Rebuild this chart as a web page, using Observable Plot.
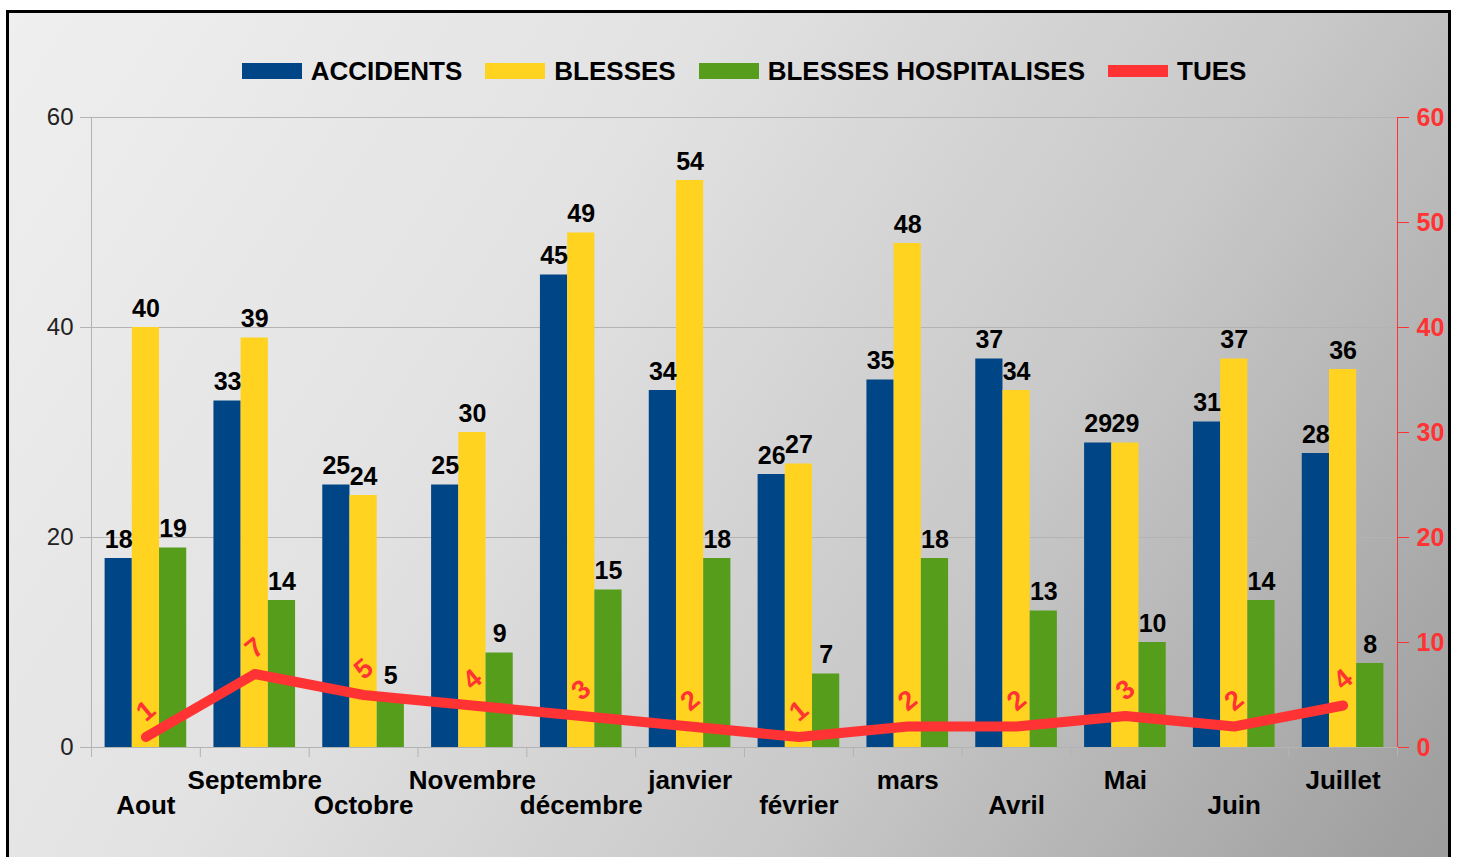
<!DOCTYPE html>
<html>
<head>
<meta charset="utf-8">
<script src="https://cdn.jsdelivr.net/npm/d3@7"></script>
<script src="https://cdn.jsdelivr.net/npm/@observablehq/plot@0.6"></script>
<style>
  html, body { margin: 0; padding: 0; background: #ffffff; overflow: hidden; }
  body { width: 1458px; height: 857px; position: relative; font-family: 'Liberation Sans', Arial, sans-serif; }
  #frame {
    position: absolute; left: 6px; top: 10px; width: 1439px; height: 900px;
    border: 3px solid #000; overflow: hidden;
    background: linear-gradient(123deg, #efefef 0%, #e2e2e2 35%, #c8c8c8 65%, #9a9a9a 100%);
  }
  #legend {
    position: absolute; left: 82px; width: 1306px; top: 44px; height: 28px;
    display: flex; justify-content: center; align-items: center; gap: 23px;
  }
  .item { display: flex; align-items: center; gap: 9px; font-weight: bold; font-size: 26px; color: #000; }
  .sw { width: 60px; height: 16px; }
  #chart { position: absolute; left: 0; top: 87px; }
</style>
</head>
<body>
<div id="frame">
  <div id="legend"></div>
  <div id="chart"></div>
</div>
<script>
const months = ["Aout","Septembre","Octobre","Novembre","décembre","janvier","février","mars","Avril","Mai","Juin","Juillet"];
const accidents = [18,33,25,25,45,34,26,35,37,29,31,28];
const blesses = [40,39,24,30,49,54,27,48,34,29,37,36];
const hospitalises = [19,14,5,9,15,18,7,18,13,10,14,8];
const tues = [1,7,5,4,3,2,1,2,2,3,2,4];
const barSeries = ["ACCIDENTS","BLESSES","BLESSES HOSPITALISES"];
const lineSeries = "TUES";
const barColors = ["#004586","#ffd320","#579d1c"];
const lineColor = "#ff3333";
const leftTicks = [0,20,40,60];
const rightTicks = [0,10,20,30,40,50,60];

// legend
const legend = document.getElementById("legend");
barSeries.concat([lineSeries]).forEach((name, k) => {
  const it = document.createElement("div");
  it.className = "item";
  const sw = document.createElement("div");
  sw.className = "sw";
  sw.style.background = k < 3 ? barColors[k] : lineColor;
  if (k === 3) sw.style.height = "12px";
  const t = document.createElement("span");
  t.textContent = name;
  it.appendChild(sw); it.appendChild(t);
  legend.appendChild(it);
});

const valuesBySeries = [accidents, blesses, hospitalises];
const rows = [];
valuesBySeries.forEach((vals, k) => {
  vals.forEach((v, i) => {
    rows.push({i, k, series: barSeries[k], value: v,
      x1: i - 0.5 + (k + 0.5) / 4, x2: i - 0.5 + (k + 1.5) / 4});
  });
});
const lineRows = tues.map((v, i) => ({i, v}));
const idx = months.map((_, i) => i);
const bounds = d3.range(-0.5, months.length, 1);
const grey = "#b3b3b3";

const chart = Plot.plot({
  width: 1439,
  height: 760,
  marginLeft: 82,
  marginRight: 51,
  marginTop: 17,
  marginBottom: 113,
  style: {background: "transparent", overflow: "visible", fontFamily: "'Liberation Sans', Arial, sans-serif"},
  x: {domain: [-0.5, months.length - 0.5], axis: null},
  y: {domain: [0, 60], axis: null},
  color: {domain: barSeries, range: barColors},
  marks: [
    Plot.gridY({ticks: [20, 40, 60], stroke: grey, strokeOpacity: 1}),
    Plot.ruleY([0], {stroke: grey}),
    Plot.ruleX([-0.5], {stroke: grey}),
    Plot.axisY({anchor: "left", ticks: leftTicks, tickSize: 11, tickPadding: 7, stroke: grey, fill: "#222", fontSize: 24, label: null}),
    Plot.axisX({ticks: bounds, tickSize: 10, tickFormat: () => "", stroke: grey, label: null}),
    Plot.axisX({ticks: idx.filter(i => i % 2 === 1), tickSize: 0, tickPadding: 23, tickFormat: i => months[i], fontSize: 26, fontWeight: "bold", fill: "#000", label: null}),
    Plot.axisX({ticks: idx.filter(i => i % 2 === 0), tickSize: 0, tickPadding: 48, tickFormat: i => months[i], fontSize: 26, fontWeight: "bold", fill: "#000", label: null}),
    Plot.rectY(rows, {x1: "x1", x2: "x2", y: "value", fill: "series"}),
    Plot.text(rows, {x: d => (d.x1 + d.x2) / 2, y: "value", text: d => String(d.value), dy: -19, fontSize: 25, fontWeight: "bold", fill: "#000"}),
    Plot.line(lineRows, {x: "i", y: "v", stroke: lineColor, strokeWidth: 10, strokeLinejoin: "round"}),
    Plot.text(lineRows, {x: "i", y: "v", text: d => String(d.v), dy: -26, rotate: -40, fontSize: 27, fontWeight: "bold", fill: lineColor}),
    Plot.ruleX([months.length - 0.5], {stroke: lineColor}),
    Plot.axisY({anchor: "right", ticks: rightTicks, tickSize: 11, tickPadding: 8, stroke: lineColor, fill: lineColor, fontSize: 25, fontWeight: "bold", label: null})
  ]
});
document.getElementById("chart").appendChild(chart);
</script>
</body>
</html>
